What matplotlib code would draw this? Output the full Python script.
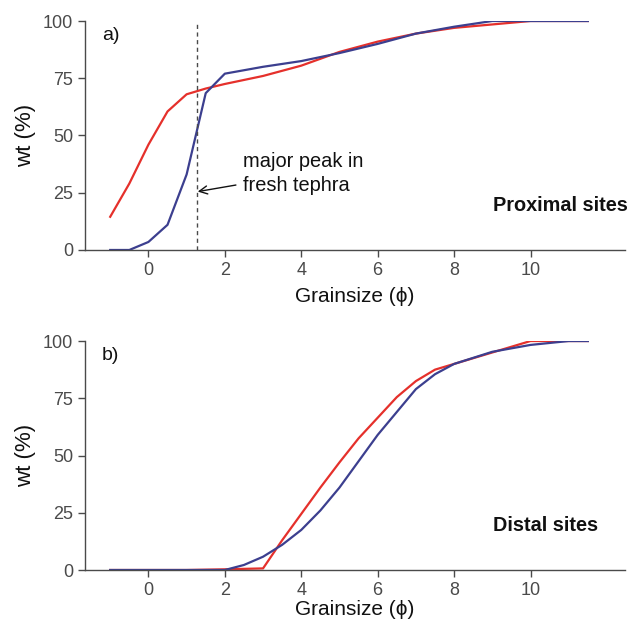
import matplotlib
matplotlib.use("Agg")
import matplotlib.pyplot as plt

plt.rcParams['font.family'] = ['Liberation Sans', 'DejaVu Sans']

# Proximal sites (panel a)
prox_red_x = [-1, -0.5, 0, 0.5, 1, 1.5, 2, 3, 4, 5, 6, 7, 8, 9, 10, 11, 11.5]
prox_red_y = [14.5, 29, 46, 60.5, 68, 70.5, 72.5, 76, 80.5, 86.5, 91, 94.5, 97, 98.5, 100, 100, 100]
prox_blue_x = [-1, -0.5, 0, 0.5, 1, 1.5, 2, 3, 4, 5, 6, 7, 8, 9, 10, 11, 11.5]
prox_blue_y = [0, 0, 3.5, 11, 33, 68.5, 77, 80, 82.5, 86, 90, 94.5, 97.5, 100, 100, 100, 100]

# Distal sites (panel b)
dist_red_x = [-1, 0, 1, 2, 2.5, 3, 3.5, 4, 4.5, 5, 5.5, 6, 6.5, 7, 7.5, 8, 9, 10, 11, 11.5]
dist_red_y = [0, 0, 0, 0.3, 0.5, 0.7, 13, 24.5, 36, 47, 57.5, 66.5, 75.5, 82.5, 87.5, 90, 95, 100, 100, 100]
dist_blue_x = [-1, 0, 1, 2, 2.5, 3, 3.5, 4, 4.5, 5, 5.5, 6, 6.5, 7, 7.5, 8, 9, 10, 11, 11.5]
dist_blue_y = [0, 0, 0, 0, 2.2, 5.8, 11, 17.5, 26, 36, 47.5, 59, 69, 79, 85.5, 90, 95.3, 98.3, 100, 100]

x_ticks = [0, 2, 4, 6, 8, 10]
y_ticks = [0, 25, 50, 75, 100]
peak_x = 1.26

RED = '#e5302b'
BLUE = '#3c3f8f'
GREY = '#4a4a4a'
TXT = '#111111'

fig = plt.figure(figsize=(6.30, 6.27), dpi=100)
ax1 = fig.add_axes([0.1349, 0.6013, 0.857, 0.3652])
ax2 = fig.add_axes([0.1349, 0.0909, 0.857, 0.3652])

for ax in (ax1, ax2):
    ax.set_xlim(-1.66, 12.47)
    ax.set_ylim(0, 100)
    ax.set_xticks(x_ticks)
    ax.set_yticks(y_ticks)
    for s in ('top', 'right'):
        ax.spines[s].set_visible(False)
    for s in ('left', 'bottom'):
        ax.spines[s].set_color(GREY)
        ax.spines[s].set_linewidth(1.0)
    ax.tick_params(direction='out', length=5, width=1.0, color=GREY,
                   labelcolor=GREY, labelsize=13)
    ax.set_ylabel('wt (%)', fontsize=16, color=TXT, labelpad=5)

ax1.set_xlabel('Grainsize (ϕ)', fontsize=15, color=TXT, labelpad=6)
ax2.set_xlabel('Grainsize (ϕ)', fontsize=15, color=TXT, labelpad=1)

ax1.plot(prox_red_x, prox_red_y, color=RED, lw=1.6)
ax1.plot(prox_blue_x, prox_blue_y, color=BLUE, lw=1.6)
ax1.plot([peak_x, peak_x], [0, 100], color=GREY, lw=1.0, ls=(0, (3, 2.5)))
ax1.annotate('major peak in\nfresh tephra', xy=(peak_x + 0.03, 25.5), xytext=(2.47, 33.4),
             fontsize=14.4, color=TXT, va='center', ha='left', linespacing=1.3,
             arrowprops=dict(arrowstyle='->', color=TXT, lw=1.0,
                             shrinkA=3, shrinkB=0))
ax1.text(0.031, 0.975, 'a)', transform=ax1.transAxes, fontsize=14, color=TXT,
         ha='left', va='top')
ax1.text(12.55, 19.6, 'Proximal sites', fontsize=14.3, fontweight='bold',
         color=TXT, ha='right', va='center')

ax2.plot(dist_red_x, dist_red_y, color=RED, lw=1.6)
ax2.plot(dist_blue_x, dist_blue_y, color=BLUE, lw=1.6)
ax2.text(0.031, 0.975, 'b)', transform=ax2.transAxes, fontsize=14, color=TXT,
         ha='left', va='top')
ax2.text(11.77, 19.6, 'Distal sites', fontsize=14.3, fontweight='bold',
         color=TXT, ha='right', va='center')

fig.savefig('out.png', dpi=100)
